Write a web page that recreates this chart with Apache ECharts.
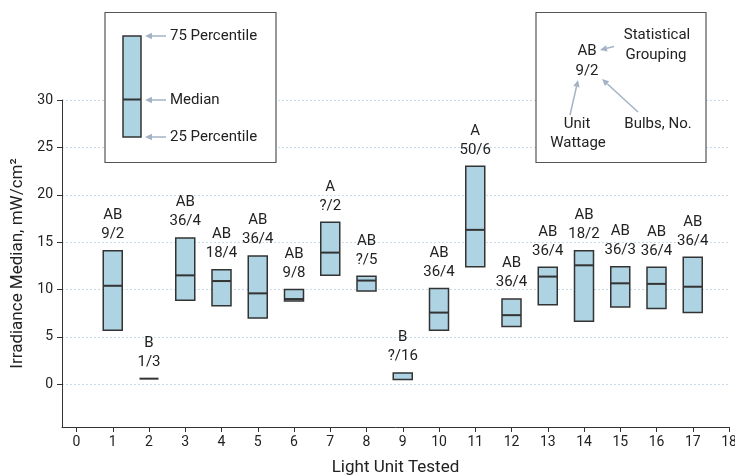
<!DOCTYPE html>
<html>
<head>
<meta charset="utf-8">
<script src="https://cdn.jsdelivr.net/npm/echarts@6/dist/echarts.min.js"></script>
<style>
html,body{margin:0;padding:0;background:#fff;}
#chart{width:735px;height:475px;}
</style>
</head>
<body>
<div id="chart"></div>
<script>
// ---- data ----
var units = [1, 2, 3, 4, 5, 6, 7, 8, 9, 10, 11, 12, 13, 14, 15, 16, 17];
var p25 = [5.7, 0.6, 8.87, 8.3, 7.0, 8.8, 11.5, 9.85, 0.5, 5.7, 12.4, 6.1, 8.4, 6.65, 8.17, 8.0, 7.57];
var medians = [10.4, 0.6, 11.5, 10.9, 9.6, 9.0, 13.9, 10.95, null, 7.57, 16.3, 7.3, 11.37, 12.56, 10.66, 10.6, 10.3];
var p75 = [14.1, 0.6, 15.45, 12.1, 13.55, 10.0, 17.1, 11.4, 1.2, 10.1, 23.0, 9.0, 12.35, 14.1, 12.4, 12.35, 13.4];
var groupings = ['AB','B','AB','AB','AB','AB','A','AB','B','AB','A','AB','AB','AB','AB','AB','AB'];
var wattageBulbs = ['9/2','1/3','36/4','18/4','36/4','9/8','?/2','?/5','?/16','36/4','50/6','36/4','36/4','18/2','36/3','36/4','36/4'];
var xTicks = [0,1,2,3,4,5,6,7,8,9,10,11,12,13,14,15,16,17,18];
var yTicks = [0,5,10,15,20,25,30];

// ---- styles ----
var FONT = 'Roboto, "Noto Sans", sans-serif';
var BOX_FILL = '#aed3e3';
var DARK = '#333333';
var ARROW = '#a3b3c4';
var TEXT = '#222222';

var seriesData = units.map(function (u, i) {
  return [u, p25[i], medians[i] == null ? '-' : medians[i], p75[i], i];
});

function renderBox(params, api) {
  var x = api.value(0), lo = api.value(1), med = api.value(2), hi = api.value(3);
  var idx = api.value(4);
  var top = api.coord([x, hi]);
  var bot = api.coord([x, lo]);
  var w = 19;
  var children = [];
  if (Math.abs(bot[1] - top[1]) < 1) {
    children.push({
      type: 'line',
      shape: {x1: top[0] - w / 2, y1: top[1], x2: top[0] + w / 2, y2: top[1]},
      style: {stroke: DARK, lineWidth: 2}
    });
  } else {
    children.push({
      type: 'rect',
      shape: {x: top[0] - w / 2, y: top[1], width: w, height: bot[1] - top[1]},
      style: {fill: BOX_FILL, stroke: DARK, lineWidth: 1.5}
    });
    if (!isNaN(med)) {
      var m = api.coord([x, med]);
      children.push({
        type: 'line',
        shape: {x1: m[0] - w / 2, y1: m[1], x2: m[0] + w / 2, y2: m[1]},
        style: {stroke: DARK, lineWidth: 2}
      });
    }
  }
  children.push({
    type: 'text',
    style: {
      x: top[0], y: top[1] - 7,
      text: groupings[idx] + '\n' + wattageBulbs[idx],
      align: 'center', verticalAlign: 'bottom',
      font: '15px ' + FONT, lineHeight: 19, fill: TEXT
    }
  });
  return {type: 'group', children: children};
}

function arrow(x1, y1, x2, y2) {
  var ang = Math.atan2(y2 - y1, x2 - x1);
  var L = 7, H = 3.2;
  var bx = x2 - L * Math.cos(ang), by = y2 - L * Math.sin(ang);
  var px = -Math.sin(ang) * H, py = Math.cos(ang) * H;
  return [
    {type: 'line', shape: {x1: x1, y1: y1, x2: bx, y2: by}, style: {stroke: ARROW, lineWidth: 1.5}, z: 101},
    {type: 'polygon', shape: {points: [[x2, y2], [bx + px, by + py], [bx - px, by - py]]}, style: {fill: ARROW}, z: 101}
  ];
}

function txt(x, y, s, align) {
  return {type: 'text', z: 101, style: {x: x, y: y, text: s, align: align || 'left', verticalAlign: 'middle', font: '15px ' + FONT, fill: TEXT}};
}

var graphics = [
  {type: 'rect', z: 100, shape: {x: 105, y: 12.5, width: 171, height: 150}, style: {fill: '#fff', stroke: '#555', lineWidth: 1.2}},
  {type: 'rect', z: 101, shape: {x: 123, y: 36, width: 18, height: 101}, style: {fill: BOX_FILL, stroke: DARK, lineWidth: 1.5}},
  {type: 'line', z: 101, shape: {x1: 123, y1: 99.5, x2: 141, y2: 99.5}, style: {stroke: DARK, lineWidth: 2}},
  txt(170, 36, '75 Percentile'),
  txt(170, 100, 'Median'),
  txt(170, 137, '25 Percentile'),
  {type: 'rect', z: 100, shape: {x: 536, y: 12.5, width: 170, height: 150}, style: {fill: '#fff', stroke: '#555', lineWidth: 1.2}},
  txt(587, 51, 'AB', 'center'),
  txt(587, 71, '9/2', 'center'),
  txt(657, 35, 'Statistical', 'center'),
  txt(656, 55, 'Grouping', 'center'),
  txt(577, 124, 'Unit', 'center'),
  txt(578, 143, 'Wattage', 'center'),
  txt(658, 124, 'Bulbs, No.', 'center')
];
graphics = graphics
  .concat(arrow(166, 36, 145, 36))
  .concat(arrow(166, 100, 145, 100))
  .concat(arrow(166, 137, 145, 137))
  .concat(arrow(614, 46.5, 600, 50))
  .concat(arrow(570, 115, 578, 80))
  .concat(arrow(638, 112, 602, 79));

var chart = echarts.init(document.getElementById('chart'), null, {renderer: 'canvas'});
chart.setOption({
  backgroundColor: '#fff',
  animation: false,
  textStyle: {fontFamily: FONT, color: TEXT},
  grid: {left: 62, right: 6, top: 100, bottom: 48, containLabel: false, outerBoundsMode: 'none'},
  xAxis: {
    type: 'value', min: -0.4, max: 18,
    name: 'Light Unit Tested', nameLocation: 'middle', nameGap: 32,
    nameTextStyle: {fontSize: 17, color: TEXT, fontFamily: FONT},
    axisLine: {onZero: false, lineStyle: {color: DARK, width: 1}},
    axisTick: {show: true, length: 5, lineStyle: {color: DARK}, customValues: xTicks},
    axisLabel: {customValues: xTicks, fontSize: 14, color: TEXT, margin: 8, fontFamily: FONT},
    splitLine: {show: false}
  },
  yAxis: {
    type: 'value', min: -4.5, max: 30,
    name: 'Irradiance Median, mW/cm²', nameLocation: 'middle', nameGap: 36,
    nameTextStyle: {fontSize: 17, color: TEXT, fontFamily: FONT},
    axisLine: {show: true, onZero: false, lineStyle: {color: DARK, width: 1}},
    axisTick: {show: true, length: 5, lineStyle: {color: DARK}, customValues: yTicks},
    axisLabel: {customValues: yTicks, fontSize: 14, color: TEXT, margin: 9, fontFamily: FONT},
    splitLine: {show: true, lineStyle: {color: '#c9dcea', type: [2, 2], width: 1}}
  },
  series: [{
    type: 'custom',
    renderItem: renderBox,
    encode: {x: 0, y: [1, 2, 3]},
    data: seriesData,
    clip: false
  }],
  graphic: graphics
});
</script>
</body>
</html>
